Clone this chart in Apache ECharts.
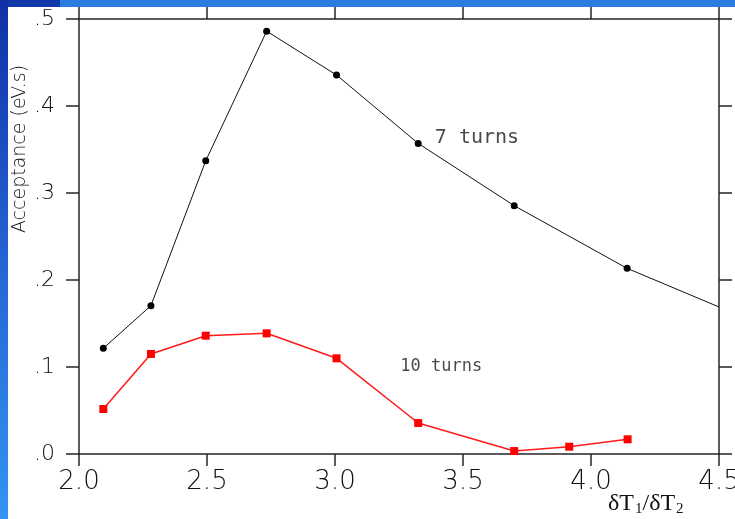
<!DOCTYPE html>
<html>
<head>
<meta charset="utf-8">
<script src="https://cdn.jsdelivr.net/npm/echarts@6/dist/echarts.min.js"></script>
<style>
  html, body { margin: 0; padding: 0; background: #fff; }
  #chart { width: 735px; height: 519px; }
</style>
</head>
<body>
<div id="chart"></div>
<script>
// Ratio of the two time steps (shared by both runs)
var ratio7 = [2.095, 2.281, 2.495, 2.733, 3.006, 3.325, 3.700, 4.141, 4.500];
var accept7 = [0.1215, 0.1705, 0.337, 0.486, 0.4356, 0.357, 0.2854, 0.2134, 0.169];
// last point of the 7-turn curve only continues the line to the frame
var marked7 = [true, true, true, true, true, true, true, true, false];

var ratio10 = [2.095, 2.281, 2.495, 2.733, 3.006, 3.325, 3.700, 3.915, 4.143];
var accept10 = [0.0517, 0.115, 0.136, 0.1387, 0.110, 0.0356, 0.0034, 0.0084, 0.0169];

var xTickLabels = ['2.0', '2.5', '3.0', '3.5', '4.0', '4.5'];
var yTickLabels = ['.0', '.1', '.2', '.3', '.4', '.5'];

// Curve captions, placed in data coordinates
var captionText = ['7 turns', '10 turns'];
var captionX = [3.39, 3.255];
var captionY = [0.363, 0.101];
var captionSize = [20, 17];

var axisColor = '#262626';
var tickFont = 'DejaVu Sans';

function pairs(xs, ys) {
  return xs.map(function (x, i) { return [x, ys[i]]; });
}

var data7 = ratio7.map(function (x, i) {
  var p = { value: [x, accept7[i]] };
  if (!marked7[i]) { p.symbolSize = 0; }
  return p;
});

var chart = echarts.init(document.getElementById('chart'), null, { renderer: 'canvas' });

function baseX(pos, showLabels) {
  return {
    type: 'value', min: 2, max: 4.5, interval: 0.5, position: pos,
    axisLine: { show: true, onZero: false, lineStyle: { color: axisColor, width: 1.5 } },
    axisTick: { show: true, inside: false, length: 12, lineStyle: { color: axisColor, width: 1.5 } },
    axisLabel: {
      show: showLabels, margin: 15, fontSize: 26, fontFamily: tickFont, fontWeight: 200, color: '#111',
      formatter: function (v) { return xTickLabels[Math.round((v - 2) / 0.5)]; }
    },
    splitLine: { show: false }
  };
}
function baseY(pos, showLabels) {
  return {
    type: 'value', min: 0, max: 0.5, interval: 0.1, position: pos,
    axisLine: { show: true, onZero: false, lineStyle: { color: axisColor, width: 1.5 } },
    axisTick: { show: true, inside: false, length: 13, lineStyle: { color: axisColor, width: 1.5 } },
    axisLabel: {
      show: showLabels, margin: 24, fontSize: 22, fontFamily: tickFont, fontWeight: 200, color: '#111',
      formatter: function (v) { return yTickLabels[Math.round(v / 0.1)]; }
    },
    splitLine: { show: false }
  };
}

var option = {
  backgroundColor: '#ffffff',
  animation: false,
  grid: { left: 79, top: 19, width: 640, height: 435, containLabel: false, outerBoundsMode: 'none' },
  xAxis: [baseX('bottom', true), baseX('top', false)],
  yAxis: [baseY('left', true), baseY('right', false)],
  series: [
    {
      name: '7 turns', type: 'line', data: data7,
      symbol: 'circle', symbolSize: 7,
      lineStyle: { color: '#111', width: 1 },
      itemStyle: { color: '#000' },
      clip: false, z: 3
    },
    {
      name: '10 turns', type: 'line', data: pairs(ratio10, accept10),
      symbol: 'rect', symbolSize: 8,
      lineStyle: { color: '#ff1a1a', width: 1.5 },
      itemStyle: { color: '#ff0000' },
      z: 3
    },
    {
      name: 'captions', type: 'scatter', symbolSize: 0, silent: true,
      data: captionText.map(function (t, i) {
        return { value: [captionX[i], captionY[i]], name: t, label: { fontSize: captionSize[i] } };
      }),
      label: {
        show: true, position: 'right', distance: 0,
        formatter: function (p) { return p.name; },
        fontFamily: 'DejaVu Sans Mono', color: '#1a1a1a'
      }
    }
  ],
  graphic: [
    // slide frame: left strip and top bar
    { type: 'rect', shape: { x: 0, y: 0, width: 8, height: 519 }, z: 100,
      style: { fill: new echarts.graphic.LinearGradient(0, 0, 0, 1, [
        { offset: 0, color: '#1030a8' }, { offset: 0.5, color: '#2464d4' }, { offset: 1, color: '#3394f4' }]) } },
    { type: 'rect', shape: { x: 8, y: 0, width: 52, height: 7 }, z: 100, style: { fill: '#1238aa' } },
    { type: 'rect', shape: { x: 60, y: 0, width: 675, height: 7 }, z: 100, style: { fill: '#2a7ce0' } },
    // y axis title
    { type: 'text', x: 20, y: 149, rotation: Math.PI / 2, z: 50,
      style: { text: 'Acceptance (eV.s)', font: '200 19px "DejaVu Sans"', fill: '#111',
               align: 'center', verticalAlign: 'middle' } },
    // x axis title
    { type: 'text', x: 608, y: 491, z: 50,
      style: {
        text: 'δT{s|1}/δT{s|2}',
        font: '24px "Liberation Serif"', fill: '#111',
        rich: { s: { fontSize: 15, fontFamily: 'Liberation Serif', verticalAlign: 'bottom', padding: [11, 0, 0, 1], fill: '#111' } }
      } }
  ]
};
chart.setOption(option);
</script>
</body>
</html>
